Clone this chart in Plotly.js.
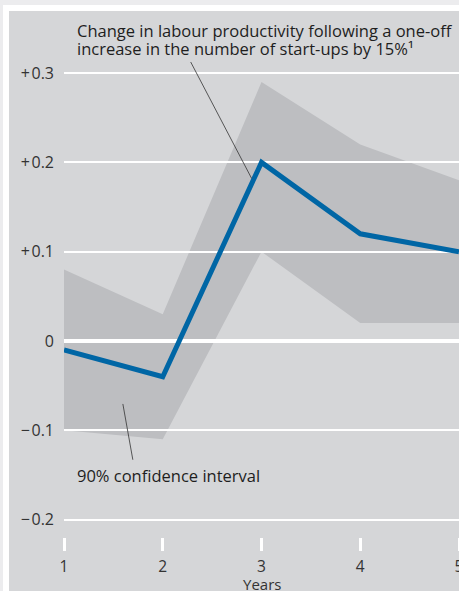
<!DOCTYPE html>
<html>
<head>
<meta charset="utf-8">
<script src="https://cdn.plot.ly/plotly-3.0.1.min.js"></script>
<style>
  html, body { margin: 0; padding: 0; background: #ececee; }
  #chart { width: 459px; height: 591px; }
</style>
</head>
<body>
<div id="chart"></div>
<script>
// Years after the increase in start-ups
const years = [1, 2, 3, 4, 5];
// Change in labour productivity (percentage points)
const productivity = [-0.01, -0.04, 0.20, 0.12, 0.10];
// 90% confidence interval bounds
const ciUpper = [0.08, 0.03, 0.29, 0.22, 0.18];
const ciLower = [-0.10, -0.11, 0.10, 0.02, 0.02];
// Axis ticks
const yTickVals = [-0.2, -0.1, 0, 0.1, 0.2, 0.3];
const yTickText = ['\u2212\u200a0.2', '\u2212\u200a0.1', '0', '+\u200a0.1', '+\u200a0.2', '+\u200a0.3'];
const xTickVals = [1, 2, 3, 4, 5];
const xTickText = ['1', '2', '3', '4', '5'];
const xTitle = 'Years';
// Label lines
const seriesLabel = ['Change in labour productivity following a one-off',
                     'increase in the number of start-ups by 15%\u00b9'];
const bandLabel = '90% confidence interval';

const FONT = 'Open Sans, Noto Sans, Liberation Sans, sans-serif';
const PANEL = '#d5d6d8';
const BAND = '#bdbec1';
const BLUE = '#0066a5';
const TEXT = '#1e1e1e';
const TICK_TEXT = '#333333';

const yRange = [-0.2195, 0.3695];
const xRange = [1, 5];

// plot area: 395 px wide starting at 64, 526 px tall starting at 11
const px2paperX = (px) => (px - 64) / 395;
const px2paperY = (py) => 1 - (py - 11) / 526;

const traces = [
  // confidence band on the lower subplot (under the grid)
  {
    x: years, y: ciLower, xaxis: 'x', yaxis: 'y',
    type: 'scatter', mode: 'lines',
    line: { width: 0, color: BAND }, hoverinfo: 'skip'
  },
  {
    x: years, y: ciUpper, xaxis: 'x', yaxis: 'y',
    type: 'scatter', mode: 'lines', fill: 'tonexty',
    fillcolor: BAND, line: { width: 0, color: BAND }, hoverinfo: 'skip'
  },
  // productivity response on the upper subplot (above the grid)
  {
    x: years, y: productivity, xaxis: 'x2', yaxis: 'y2',
    type: 'scatter', mode: 'lines',
    line: { width: 5, color: BLUE, shape: 'linear' }
  }
];

const hiddenAxis = {
  showgrid: false, zeroline: false, showticklabels: false,
  ticks: '', showline: false, fixedrange: true
};

const labelFont = { family: FONT, size: 16.5, color: TEXT };

const layout = {
  width: 459, height: 591, autosize: false,
  margin: { l: 64, r: 0, t: 11, b: 54, pad: 0 },
  paper_bgcolor: '#ececee',
  plot_bgcolor: 'rgba(0,0,0,0)',
  showlegend: false,
  hovermode: false,
  font: { family: FONT, size: 15, color: TEXT },
  xaxis: Object.assign({}, hiddenAxis, { range: xRange, domain: [0, 1], anchor: 'y' }),
  yaxis: Object.assign({}, hiddenAxis, { range: yRange, domain: [0, 1], anchor: 'x' }),
  xaxis2: {
    range: xRange, domain: [0, 1], anchor: 'y2',
    tickvals: xTickVals, ticktext: xTickText,
    ticks: 'outside', ticklen: 13, tickwidth: 3, tickcolor: '#ffffff',
    ticklabeloverflow: 'allow', ticklabelstandoff: 2,
    showgrid: false, zeroline: false, showline: false,
    tickfont: { family: FONT, size: 15.5, color: TICK_TEXT },
    automargin: false, fixedrange: true
  },
  yaxis2: {
    range: yRange, domain: [0, 1], anchor: 'x2',
    tickvals: yTickVals, ticktext: yTickText,
    ticks: '', showline: false,
    showgrid: true, gridcolor: '#ffffff', gridwidth: 2,
    zeroline: true, zerolinecolor: '#ffffff', zerolinewidth: 4,
    ticklabelstandoff: 9,
    tickfont: { family: FONT, size: 16, color: TICK_TEXT },
    automargin: false, fixedrange: true
  },
  shapes: [
    // white frame around the panel
    {
      type: 'rect', layer: 'below', xref: 'paper', yref: 'paper',
      xsizemode: 'pixel', ysizemode: 'pixel', xanchor: 0, yanchor: 1,
      x0: -61, x1: 400, y0: -600, y1: 6,
      fillcolor: '#ffffff', line: { width: 0 }
    },
    // grey panel
    {
      type: 'rect', layer: 'below', xref: 'paper', yref: 'paper',
      xsizemode: 'pixel', ysizemode: 'pixel', xanchor: 0, yanchor: 1,
      x0: -55, x1: 400, y0: -600, y1: 0,
      fillcolor: PANEL, line: { width: 0 }
    },
    // leader to the productivity line
    {
      type: 'line', xref: 'x2', yref: 'y2', layer: 'above',
      x0: 2.283, y0: 0.3124, x1: 2.9, y1: 0.182,
      line: { color: '#333333', width: 0.8 }
    },
    // leader to the confidence band
    {
      type: 'line', xref: 'x2', yref: 'y2', layer: 'above',
      x0: 1.596, y0: -0.0705, x1: 1.697, y1: -0.133,
      line: { color: '#333333', width: 0.8 }
    }
  ],
  annotations: [
    {
      xref: 'paper', yref: 'paper', x: px2paperX(75), y: px2paperY(30),
      xanchor: 'left', yanchor: 'middle', align: 'left', showarrow: false,
      text: seriesLabel[0], font: labelFont
    },
    {
      xref: 'paper', yref: 'paper', x: px2paperX(75), y: px2paperY(49),
      xanchor: 'left', yanchor: 'middle', align: 'left', showarrow: false,
      text: seriesLabel[1], font: labelFont
    },
    {
      xref: 'paper', yref: 'y2', x: px2paperX(75), y: -0.151,
      xanchor: 'left', yanchor: 'middle', align: 'left', showarrow: false,
      text: bandLabel, font: labelFont
    },
    // x-axis title, set close under the tick labels
    {
      xref: 'x2', yref: 'paper', x: 3, y: px2paperY(584),
      xanchor: 'center', yanchor: 'middle', showarrow: false,
      text: xTitle, font: { family: FONT, size: 15, color: TICK_TEXT }
    }
  ]
};

Plotly.newPlot('chart', traces, layout, { displayModeBar: false, staticPlot: true });
</script>
</body>
</html>
